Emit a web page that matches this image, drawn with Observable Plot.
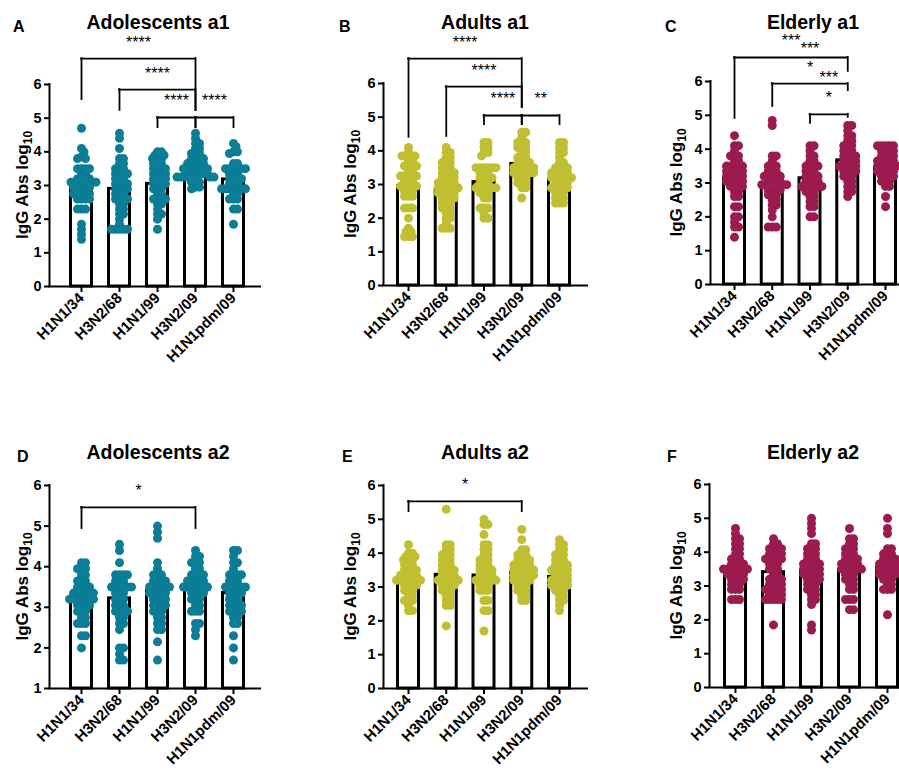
<!DOCTYPE html>
<html><head><meta charset="utf-8">
<script src="https://cdn.jsdelivr.net/npm/d3@7"></script>
<script src="https://cdn.jsdelivr.net/npm/@observablehq/plot@0.6"></script>
<style>
html,body{margin:0;padding:0;background:#fff;}
#root{position:relative;width:899px;height:774px;overflow:hidden;font-family:"Liberation Sans",Arial,sans-serif;}
#root svg{position:absolute;}
</style></head>
<body><div id="root"></div>
<script>
// ---------------- DATA ----------------
const categories = ["H1N1/34","H3N2/68","H1N1/99","H3N2/09","H1N1pdm/09"];
const panelLetters = ["A","B","C","D","E","F"];
const panelTitles = ["Adolescents a1","Adults a1","Elderly a1","Adolescents a2","Adults a2","Elderly a2"];
const yLabelMain = "IgG Abs log";
const yLabelSub = "10";
const yTicksFrom0 = [0,1,2,3,4,5,6];
const yTicksFrom1 = [1,2,3,4,5,6];
const groupColors = {Adolescents:"#0b7d96", Adults:"#c0bf31", Elderly:"#9c1b4f"};
const panelGroups = ["Adolescents","Adults","Elderly","Adolescents","Adults","Elderly"];

// bar heights (mean, log10)
const meansA = [2.98,2.90,3.05,3.55,3.18];
const meansB = [2.95,2.85,3.07,3.61,3.15];
const meansC = [3.14,2.96,3.14,3.67,3.45];
const meansD = [3.20,3.22,3.40,3.47,3.35];
const meansE = [3.13,3.36,3.34,3.42,3.30];
const meansF = [3.38,3.41,3.41,3.48,3.53];

// individual values: [value, how many subjects], one list per strain
const pointsA = [
 [[4.7,1],[4.1,1],[4.0,1],[3.85,1],[3.8,2],[3.5,4],[3.35,2],[3.2,4],[3.1,4],[2.95,5],[2.8,3],[2.75,2],[2.6,4],[2.3,3],[1.85,1],[1.7,1],[1.55,1],[1.4,1]],
 [[4.55,1],[4.4,1],[4.1,1],[3.8,2],[3.65,2],[3.5,3],[3.35,4],[3.2,3],[3.05,4],[2.9,4],[2.75,3],[2.6,4],[2.45,2],[2.3,2],[2.15,2],[2.0,1],[1.85,1],[1.7,5]],
 [[4.0,2],[3.9,2],[3.8,3],[3.65,3],[3.5,4],[3.35,4],[3.2,4],[3.05,4],[2.9,3],[2.75,2],[2.6,4],[2.45,2],[2.3,1],[2.15,2],[2.0,1],[1.7,1]],
 [[4.55,1],[4.4,1],[4.25,2],[4.1,2],[3.95,3],[3.8,4],[3.65,5],[3.5,7],[3.35,6],[3.25,5],[3.1,3],[2.95,2],[2.9,1]],
 [[4.25,1],[4.15,1],[4.0,2],[3.95,1],[3.65,2],[3.5,6],[3.35,3],[3.2,4],[3.05,3],[2.9,7],[2.75,2],[2.6,3],[2.3,2],[1.85,1]]
];
const pointsB = [
 [[4.1,1],[3.95,1],[3.85,4],[3.7,2],[3.55,4],[3.4,2],[3.25,5],[3.1,3],[2.95,5],[2.8,3],[2.65,3],[2.3,3],[2.0,1],[1.7,1],[1.6,2],[1.45,3]],
 [[4.1,1],[3.95,2],[3.8,2],[3.65,3],[3.5,3],[3.35,4],[3.2,4],[3.05,5],[2.9,6],[2.75,5],[2.6,4],[2.45,3],[2.3,3],[2.15,2],[2.0,2],[1.85,1],[1.7,3]],
 [[4.25,2],[4.1,2],[3.95,2],[3.85,1],[3.5,6],[3.35,3],[3.2,4],[3.05,3],[2.9,6],[2.75,3],[2.6,2],[2.3,3],[2.15,1],[2.0,2]],
 [[4.55,2],[4.4,1],[4.25,3],[4.1,3],[3.95,2],[3.8,3],[3.65,4],[3.5,6],[3.35,6],[3.2,3],[3.05,3],[2.9,2],[2.6,1]],
 [[4.25,2],[4.1,2],[3.95,2],[3.8,1],[3.65,2],[3.5,4],[3.35,5],[3.2,6],[3.05,4],[2.9,5],[2.75,3],[2.6,3],[2.45,3]]
];
const pointsC = [
 [[4.4,1],[4.1,2],[3.95,1],[3.8,3],[3.65,2],[3.5,5],[3.35,5],[3.2,5],[3.05,5],[2.9,4],[2.75,2],[2.6,2],[2.3,2],[2.0,2],[1.85,1],[1.7,2],[1.4,1]],
 [[4.85,1],[4.7,1],[3.8,2],[3.65,1],[3.5,3],[3.35,3],[3.2,5],[3.05,4],[2.95,4],[2.8,4],[2.65,3],[2.5,2],[2.35,2],[2.2,1],[2.0,1],[1.7,3]],
 [[4.1,2],[3.95,1],[3.8,2],[3.65,2],[3.5,4],[3.35,3],[3.2,4],[3.05,4],[2.9,6],[2.75,3],[2.6,2],[2.45,2],[2.3,2],[2.0,2]],
 [[4.7,2],[4.55,1],[4.4,2],[4.25,2],[4.1,3],[3.95,3],[3.8,4],[3.65,4],[3.5,5],[3.35,4],[3.2,3],[3.05,2],[2.9,2],[2.75,2],[2.6,1]],
 [[4.1,5],[3.95,4],[3.8,4],[3.65,5],[3.5,6],[3.35,5],[3.2,4],[3.05,3],[2.9,2],[2.6,1],[2.3,1]]
];
const pointsD = [
 [[4.1,2],[3.95,3],[3.8,2],[3.65,3],[3.5,4],[3.35,6],[3.2,7],[3.05,4],[2.9,3],[2.75,2],[2.6,3],[2.3,2],[2.0,1]],
 [[4.55,1],[4.4,1],[4.1,1],[3.8,4],[3.65,3],[3.5,6],[3.35,3],[3.2,3],[3.05,3],[2.9,4],[2.75,2],[2.6,2],[2.45,1],[2.0,2],[1.85,1],[1.7,2]],
 [[5.0,1],[4.85,1],[4.7,1],[4.1,1],[3.95,1],[3.8,3],[3.65,4],[3.5,6],[3.35,5],[3.2,4],[3.05,4],[2.9,3],[2.75,2],[2.6,2],[2.45,2],[2.15,1],[1.7,1]],
 [[4.4,1],[4.25,2],[4.1,3],[3.95,2],[3.8,4],[3.65,5],[3.5,7],[3.35,4],[3.2,3],[3.05,2],[2.9,3],[2.6,2],[2.45,1],[2.3,1]],
 [[4.4,2],[4.25,1],[4.1,2],[3.95,1],[3.8,4],[3.65,3],[3.5,6],[3.35,4],[3.2,3],[3.05,4],[2.9,4],[2.75,2],[2.6,2],[2.3,1],[2.0,1],[1.7,1]]
];
const pointsE = [
 [[4.25,1],[4.0,2],[3.9,2],[3.8,3],[3.65,3],[3.5,4],[3.35,5],[3.2,7],[3.05,4],[2.9,3],[2.75,2],[2.6,3],[2.45,1],[2.3,2]],
 [[5.3,1],[4.25,2],[4.1,2],[3.95,3],[3.8,3],[3.65,3],[3.5,4],[3.35,4],[3.2,6],[3.05,4],[2.9,3],[2.75,2],[2.6,2],[2.45,2],[1.85,1]],
 [[5.0,1],[4.85,2],[4.55,1],[4.25,2],[4.1,2],[3.95,2],[3.8,3],[3.65,3],[3.5,4],[3.35,4],[3.2,6],[3.05,3],[2.9,3],[2.6,2],[2.3,2],[1.7,1]],
 [[4.7,1],[4.4,1],[4.1,2],[3.95,3],[3.8,4],[3.65,5],[3.5,6],[3.35,6],[3.2,5],[3.05,3],[2.9,3],[2.75,2],[2.6,2]],
 [[4.4,1],[4.25,2],[4.1,2],[3.95,3],[3.8,3],[3.65,4],[3.5,5],[3.35,4],[3.2,5],[3.05,5],[2.9,3],[2.75,2],[2.6,2],[2.45,1],[2.3,1]]
];
const pointsF = [
 [[4.7,1],[4.55,1],[4.4,2],[4.25,2],[4.1,2],[3.95,2],[3.8,3],[3.65,4],[3.5,7],[3.35,5],[3.2,4],[3.05,3],[2.9,3],[2.6,3]],
 [[4.4,1],[4.25,2],[4.1,4],[3.95,4],[3.8,5],[3.65,3],[3.5,3],[3.35,2],[3.2,4],[3.05,4],[2.9,5],[2.75,4],[2.6,5],[1.85,1]],
 [[5.0,1],[4.85,1],[4.7,1],[4.55,1],[4.25,2],[4.1,3],[3.95,3],[3.8,3],[3.65,5],[3.5,5],[3.35,5],[3.2,4],[3.05,3],[2.9,3],[2.75,2],[2.6,2],[2.45,1],[1.85,1],[1.7,1]],
 [[4.7,1],[4.4,2],[4.25,2],[4.1,3],[3.95,3],[3.8,4],[3.65,5],[3.5,6],[3.35,3],[3.2,3],[3.05,2],[2.9,2],[2.6,3],[2.3,2]],
 [[5.0,1],[4.7,1],[4.55,1],[4.1,2],[3.95,3],[3.8,4],[3.65,5],[3.5,6],[3.35,5],[3.2,3],[3.05,2],[2.9,3],[2.15,1]]
];

// significance brackets: strain indices, bar level, leg ends (log10 units), label
const bracketsA = [
 {from:0,to:3,y:6.77,yl:5.55,yr:5.23,label:"****"},
 {from:1,to:3,y:5.85,yl:5.23,yr:5.23,label:"****"},
 {from:2,to:3,y:5.02,yl:4.72,yr:4.72,label:"****"},
 {from:3,to:4,y:5.02,yl:4.72,yr:4.72,label:"****"}
];
const bracketsB = [
 {from:0,to:3,y:6.74,yl:4.40,yr:5.29,label:"****"},
 {from:1,to:3,y:5.91,yl:4.43,yr:5.29,label:"****"},
 {from:2,to:3,y:5.05,yl:4.78,yr:4.78,label:"****"},
 {from:3,to:4,y:5.05,yl:4.78,yr:4.78,label:"**"}
];
const bracketsC = [
 {from:0,to:3,y:6.71,yl:4.91,yr:6.30,label:"***"},
 {from:0,to:4,y:6.50,label:"***",hidden:true},
 {from:1,to:3,y:5.94,yl:5.26,yr:5.73,label:"*"},
 {from:1,to:4,y:5.62,label:"***",hidden:true},
 {from:2,to:3,y:5.03,yl:4.76,yr:4.94,label:"*"}
];
const bracketsD = [{from:0,to:3,y:5.46,yl:4.94,yr:4.94,label:"*"}];
const bracketsE = [{from:0,to:3,y:5.53,yl:5.23,yr:5.23,label:"*"}];
const bracketsF = [];

const allMeans = [meansA,meansB,meansC,meansD,meansE,meansF];
const allPoints = [pointsA,pointsB,pointsC,pointsD,pointsE,pointsF];
const allBrackets = [bracketsA,bracketsB,bracketsC,bracketsD,bracketsE,bracketsF];
const allYTicks = [yTicksFrom0,yTicksFrom0,yTicksFrom0,yTicksFrom1,yTicksFrom0,yTicksFrom0];

// ---------------- LAYOUT (page pixels) ----------------
const layout = [
 {left:0,  top:0,  w:300,h:390,axisL:49, axisR:260,cat0:81, step:38,   yTop:84, yBot:286,yDom:[0,6],letter:[13,32], title:[158,29], ylab:[28,185]},
 {left:300,top:0,  w:300,h:390,axisL:383,axisR:587,cat0:408,step:37.75,yTop:83, yBot:285,yDom:[0,6],letter:[339,32],title:[485,29], ylab:[356,184]},
 {left:600,top:0,  w:299,h:390,axisL:710,axisR:899,cat0:734,step:37.75,yTop:81, yBot:284,yDom:[0,6],letter:[665,32],title:[813,29], ylab:[682,182.5]},
 {left:0,  top:390,w:300,h:384,axisL:49, axisR:260,cat0:81, step:38,   yTop:485,yBot:688,yDom:[1,6],letter:[17,462],title:[158,459],ylab:[28,586.5]},
 {left:300,top:390,w:300,h:384,axisL:383,axisR:587,cat0:408,step:37.75,yTop:485,yBot:688,yDom:[0,6],letter:[342,462],title:[485,459],ylab:[356,586.5]},
 {left:600,top:390,w:299,h:384,axisL:709,axisR:899,cat0:735,step:38,   yTop:484,yBot:687,yDom:[0,6],letter:[667,462],title:[813,459],ylab:[682,585.5]}
];
const FONT = "'Liberation Sans', Arial, sans-serif";
const DOT_R = 4.5, DOT_SEP = 4, BAR_HALF_PX = 10.5;

function expand(table){const out=[];for(const [v,n] of table)for(let k=0;k<n;k++)out.push(v);return out;}
// simple beeswarm: horizontal offsets (px) so dots sit side by side
function swarm(values, pxPerY){
  const idx = values.map((v,i)=>i).sort((a,b)=>values[b]-values[a]);
  const placed=[]; const off=new Array(values.length);
  for(const i of idx){
    const y=-values[i]*pxPerY; let x=0;
    for(let k=0;k<2000;k++){
      const c = k===0?0:(k%2?1:-1)*Math.ceil(k/2)*0.5;
      if(placed.every(q=>(q.x-c)**2+(q.y-y)**2>=DOT_SEP*DOT_SEP-1e-6)){x=c;break;}
    }
    placed.push({x,y}); off[i]=x;
  }
  return off;
}

const root = document.getElementById("root");
layout.forEach((L,p)=>{
  const xDom=[(L.axisL-L.cat0)/L.step,(L.axisR-L.cat0)/L.step];
  const pxPerY=(L.yBot-L.yTop)/(L.yDom[1]-L.yDom[0]);
  const pts=[];
  allPoints[p].forEach((table,ci)=>{
    const vals=expand(table); const off=swarm(vals,pxPerY);
    vals.forEach((v,j)=>pts.push({x:ci+off[j]/L.step,v}));
  });
  const bars=categories.map((c,i)=>({i,m:allMeans[p][i]}));
  const half=BAR_HALF_PX/L.step;
  const br=allBrackets[p]; const brLines=br.filter(b=>!b.hidden);
  const color=groupColors[panelGroups[p]];
  const chart=Plot.plot({
    width:L.w,height:L.h,
    marginLeft:L.axisL-L.left,marginRight:L.left+L.w-L.axisR,
    marginTop:L.yTop-L.top,marginBottom:L.top+L.h-L.yBot,
    x:{type:"linear",domain:xDom},
    y:{domain:L.yDom},
    style:{fontFamily:FONT,fontWeight:"bold",color:"#000",background:"transparent",overflow:"visible"},
    marks:[
      Plot.rect(bars,{x1:d=>d.i-half,x2:d=>d.i+half,y1:L.yDom[0],y2:"m",fill:"white",stroke:"black",strokeWidth:3}),
      Plot.dot(pts,{x:"x",y:"v",r:DOT_R,fill:color,stroke:"none"}),
      Plot.ruleX([xDom[0]],{x:d=>d,y1:L.yDom[0],y2:L.yDom[1],strokeWidth:2,strokeLinecap:"square"}),
      Plot.ruleY([L.yDom[0]],{y:d=>d,x1:xDom[0],x2:xDom[1],strokeWidth:2,strokeLinecap:"square"}),
      Plot.axisY({ticks:allYTicks[p],tickFormat:d=>String(d),tickSize:5,tickPadding:3,fontSize:14.5,fontWeight:"bold",strokeWidth:2,label:null}),
      Plot.axisX({ticks:[0,1,2,3,4],tickFormat:i=>categories[i],tickRotate:-45,tickSize:6,tickPadding:3,fontSize:15,fontWeight:"bold",strokeWidth:2,label:null}),
      Plot.ruleY(brLines,{y:"y",x1:"from",x2:"to",strokeWidth:1.8,strokeLinecap:"square"}),
      Plot.ruleX(brLines,{x:"from",y1:"y",y2:"yl",strokeWidth:1.8,strokeLinecap:"square"}),
      Plot.ruleX(brLines,{x:"to",y1:"y",y2:"yr",strokeWidth:1.8,strokeLinecap:"square"}),
      Plot.text(br,{x:d=>(d.from+d.to)/2,y:"y",text:"label",dy:-11,lineAnchor:"bottom",fontSize:16,fontWeight:"normal"})
    ]
  });
  chart.style.left=L.left+"px"; chart.style.top=L.top+"px";
  root.appendChild(chart);
});

// overlay: panel letters, titles, y-axis labels
const ov=d3.select(root).append("svg").attr("width",899).attr("height",774)
  .style("left","0px").style("top","0px").style("font-family",FONT).style("font-weight","bold");
layout.forEach((L,p)=>{
  ov.append("text").attr("x",L.letter[0]).attr("y",L.letter[1]).attr("font-size",16).text(panelLetters[p]);
  ov.append("text").attr("x",L.title[0]).attr("y",L.title[1]).attr("font-size",19.5).attr("text-anchor","middle").text(panelTitles[p]);
  const t=ov.append("text").attr("transform",`translate(${L.ylab[0]},${L.ylab[1]}) rotate(-90)`)
    .attr("text-anchor","middle").attr("font-size",17);
  t.append("tspan").text(yLabelMain);
  t.append("tspan").attr("font-size",12).attr("dy",4).text(yLabelSub);
});
</script></body></html>
